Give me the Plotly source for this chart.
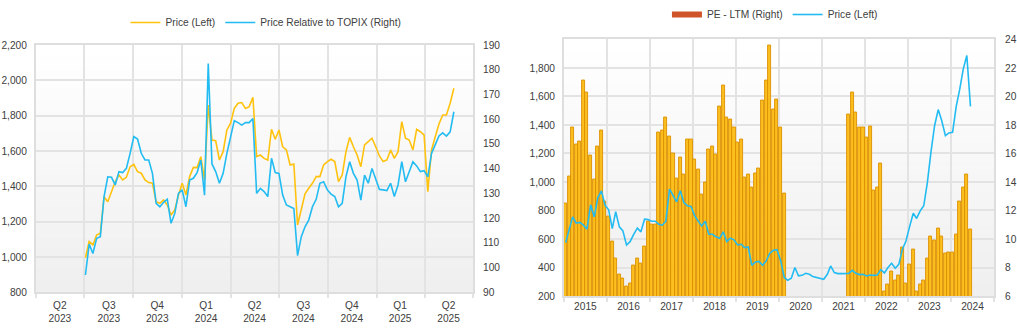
import plotly.graph_objects as go
import pandas as pd

# ---------------- Left panel data (weekly readings) ----------------
left_dates = pd.date_range("2023-07-03", periods=100, freq="7D")
price_left = [995, 1087, 1068, 1124, 1134, 1341, 1313, 1375, 1426, 1464,
              1436, 1451, 1511, 1524, 1483, 1474, 1436, 1421, 1417, 1313,
              1304, 1323, 1294, 1238, 1266, 1351, 1417, 1351, 1455, 1507,
              1506, 1568, 1436, 1860, 1662, 1658, 1549, 1596, 1719, 1757,
              1841, 1870, 1874, 1841, 1851, 1904, 1568, 1577, 1558, 1549,
              1723, 1666, 1719, 1624, 1606, 1521, 1526, 1181, 1266, 1357,
              1389, 1417, 1455, 1455, 1521, 1540, 1553, 1540, 1426, 1464,
              1596, 1677, 1624, 1577, 1511, 1634, 1653, 1672, 1624, 1572,
              1540, 1549, 1606, 1558, 1596, 1766, 1672, 1662, 1606, 1723,
              1709, 1690, 1370, 1606, 1681, 1753, 1804, 1804, 1870, 1955]
rel_topix = [97.0, 109.5, 105.7, 111.8, 112.5, 128.7, 136.7, 136.5, 133.4, 138.8,
             138.4, 140.1, 146.2, 153.0, 152.0, 146.2, 143.5, 143.5, 138.1, 126.0,
             124.6, 126.4, 127.6, 117.9, 121.9, 130.0, 131.4, 124.6, 135.4, 136.1,
             138.4, 143.5, 129.3, 182.5, 141.9, 138.8, 134.1, 138.1, 146.2, 152.9,
             159.4, 158.6, 157.6, 158.6, 158.6, 160.3, 130.0, 132.0, 130.7, 128.7,
             144.2, 138.4, 138.1, 129.3, 125.3, 124.6, 123.9, 104.8, 112.5, 116.5,
             119.2, 124.6, 127.6, 134.1, 134.7, 131.4, 129.7, 128.7, 124.6, 126.0,
             136.7, 142.8, 138.1, 135.4, 127.3, 137.4, 134.1, 140.1, 135.4, 131.6,
             131.4, 131.1, 134.1, 128.7, 133.4, 142.8, 134.7, 138.8, 142.8, 141.1,
             138.8, 139.2, 136.7, 146.2, 149.5, 153.2, 154.5, 153.2, 154.9, 163.0]

quarter_starts = ["2023-04-01", "2023-07-01", "2023-10-01", "2024-01-01", "2024-04-01",
                  "2024-07-01", "2024-10-01", "2025-01-01", "2025-04-01", "2025-07-01"]
quarter_mids = ["2023-05-16", "2023-08-16", "2023-11-15", "2024-02-15", "2024-05-16",
                "2024-08-16", "2024-11-15", "2025-02-14", "2025-05-16"]
quarter_labels = ["Q2<br>2023", "Q3<br>2023", "Q4<br>2023", "Q1<br>2024", "Q2<br>2024",
                  "Q3<br>2024", "Q4<br>2024", "Q1<br>2025", "Q2<br>2025"]

# ---------------- Right panel data (monthly readings) ----------------
month_dates = pd.date_range("2015-01-01", periods=114, freq="MS") + pd.Timedelta(days=14)
pe_ltm = [12.5, 14.4, 17.85, 16.65, 16.85, 21.1, 20.25, 15.85, 14.2, 16.5,
          17.65, 12.6, 11.6, 9.8, 8.65, 7.5, 7.2, 6.65, 6.85, 8.15,
          8.65, 8.25, 9.5, 11.2, 11.0, 11.0, 17.5, 17.65, 18.5, 17.2,
          16.0, 14.25, 15.75, 14.5, 17.0, 17.0, 15.6, 14.85, 13.15, 13.95,
          16.3, 16.5, 15.95, 19.3, 20.8, 18.5, 18.4, 17.8, 16.8, 17.0,
          14.3, 14.5, 13.6, 14.6, 14.95, 19.7, 21.1, 23.6, 19.1, 19.8,
          17.85, 13.2,
          None, None, None, None, None, None, None, None, None, None,
          None, None, None, None, None, None, None,
          18.75, 20.25, 18.9, 17.85, 17.8, 17.1, 17.9, 13.4, 13.65, 15.3,
          6.3, 6.8, 7.75, 7.1, 7.45, 9.4, 6.85, 8.2, 9.25, 6.35,
          6.8, 7.1, 8.65, 10.2, 9.9, 10.75, 10.2, 8.95, 9.05, 9.05,
          10.3, 12.6, 13.65, 14.5, 10.65]
price_monthly = [575, 669, 755, 711, 716, 697, 669, 840, 755, 891,
                 938, 837, 805, 673, 791, 685, 657, 558, 581, 633,
                 676, 650, 739, 737, 725, 725, 704, 697, 725, 950,
                 903, 861, 938, 856, 833, 828, 762, 725, 692, 725,
                 633, 633, 615, 605, 650, 581, 605, 594, 558, 563,
                 540, 544, 415, 439, 443, 415, 446, 500, 521, 525,
                 450, 330, 310, 325, 400, 341, 345, 359, 352, 336,
                 329, 324, 317, 352, 411, 364, 357, 357, 357, 359,
                 380, 359, 350, 352, 341, 347, 345, 347, 385, 362,
                 400, 430, 395, 422, 528, 586, 687, 781, 744, 797,
                 833, 997, 1208, 1395, 1508, 1430, 1325, 1344, 1348, 1531,
                 1648, 1794, 1887, 1531]

year_starts = [f"{y}-01-01" for y in range(2015, 2026)]
year_mids = [f"{y}-07-02" for y in range(2015, 2025)]
year_labels = [str(y) for y in range(2015, 2025)]

# ---------------- Styles ----------------
YELLOW = "#FFC20E"
BLUE = "#22BCF2"
GRID = "#e3e3e3"
FRAME = "#dedede"
TXT = "#404040"
FONT = "Arial, Liberation Sans, sans-serif"
FS = 10.2

fig = go.Figure()

fig.add_trace(go.Scatter(x=left_dates, y=price_left, name="Price (Left)", mode="lines",
                         line=dict(color=YELLOW, width=1.6), xaxis="x", yaxis="y",
                         legend="legend"))
fig.add_trace(go.Scatter(x=left_dates, y=rel_topix, name="Price Relative to TOPIX (Right)",
                         mode="lines", line=dict(color=BLUE, width=1.6), xaxis="x", yaxis="y2",
                         legend="legend"))

# right panel: bars on base axis (y3, right side), price on overlaying axis (y4, left side)
fig.add_trace(go.Bar(x=month_dates, y=pe_ltm, name="PE - LTM (Right)", showlegend=False,
                     marker=dict(color="#FBBF1E", line=dict(color="#DD9000", width=0.9)),
                     width=26 * 86400000, xaxis="x2", yaxis="y3", legend="legend2"))
fig.add_trace(go.Scatter(x=[month_dates[0]], y=[None], name="PE - LTM (Right)", mode="lines",
                         line=dict(color="#D0542A", width=6),
                         xaxis="x2", yaxis="y3", legend="legend2"))
fig.add_trace(go.Scatter(x=month_dates, y=price_monthly, name="Price (Left)", mode="lines",
                         line=dict(color=BLUE, width=1.6), xaxis="x2", yaxis="y4",
                         legend="legend2"))

tickfont = dict(family=FONT, size=FS, color=TXT)
minor_common = dict(showgrid=True, gridcolor=GRID, gridwidth=1.5, ticks="outside",
                    ticklen=4, tickcolor=GRID, tickwidth=1.5)

# gradient backgrounds
shapes = []
N = 40
for xr, yr in (("x domain", "y domain"), ("x2 domain", "y3 domain")):
    for i in range(N):
        t = i / (N - 1)
        v = int(round(239 + (255 - 239) * t))
        col = f"rgb({v},{v},{v})"
        shapes.append(dict(type="rect", xref=xr, yref=yr, x0=0, x1=1,
                           y0=i / N, y1=(i + 1) / N + 0.002, fillcolor=col,
                           line=dict(width=0), layer="below"))

fig.update_layout(
    template="none",
    width=1017, height=329,
    margin=dict(l=0, r=0, t=0, b=0, pad=0),
    paper_bgcolor="white", plot_bgcolor="white",
    font=dict(family=FONT, size=FS, color=TXT),
    bargap=0,
    shapes=shapes,
    xaxis=dict(domain=[0.0354, 0.4651], type="date", anchor="y",
               range=["2023-04-01", "2025-07-01"],
               tickmode="array", tickvals=quarter_mids, ticktext=quarter_labels,
               showgrid=False, ticks="outside", ticklen=2, tickcolor="rgba(0,0,0,0)",
               tickfont=tickfont, automargin=False,
               minor=dict(tickmode="array", tickvals=quarter_starts, **minor_common),
               showline=True, linecolor=FRAME, linewidth=2, mirror=True, zeroline=False),
    yaxis=dict(domain=[0.1116, 0.8632], range=[800, 2200], dtick=200, tickformat=",",
               showgrid=True, gridcolor=GRID, gridwidth=1.5, zeroline=False,
               showline=True, linecolor=FRAME, linewidth=2, mirror=True, automargin=False,
               ticks="outside", ticklen=5, tickcolor="rgba(0,0,0,0)", tickfont=tickfont,
               anchor="x"),
    yaxis2=dict(overlaying="y", side="right", range=[90, 190], dtick=10, showgrid=False,
                zeroline=False, ticks="outside", ticklen=7, tickcolor="rgba(0,0,0,0)",
                tickfont=tickfont, anchor="x", automargin=False),
    xaxis2=dict(domain=[0.5546, 0.9774], type="date", anchor="y3",
                range=["2015-01-01", "2025-01-01"],
                tickmode="array", tickvals=year_mids, ticktext=year_labels,
                showgrid=False, ticks="", tickfont=tickfont, automargin=False,
                minor=dict(tickmode="array", tickvals=year_starts, **minor_common),
                showline=True, linecolor=FRAME, linewidth=2, mirror=True, zeroline=False),
    yaxis3=dict(domain=[0.1003, 0.880], range=[6, 24], dtick=2, side="right",
                showgrid=True, gridcolor=GRID, gridwidth=1.5, zeroline=False,
                showline=True, linecolor=FRAME, linewidth=2, mirror=True, automargin=False,
                ticks="outside", ticklen=7, tickcolor="rgba(0,0,0,0)", tickfont=tickfont,
                anchor="x2"),
    yaxis4=dict(overlaying="y3", side="left", range=[200, 2000],
                tickmode="array", tickvals=[200, 400, 600, 800, 1000, 1200, 1400, 1600, 1800],
                tickformat=",", showgrid=False, zeroline=False, automargin=False,
                ticks="outside", ticklen=6, tickcolor="rgba(0,0,0,0)", tickfont=tickfont,
                anchor="x2"),
    legend=dict(orientation="h", x=0.2615, xanchor="center", y=0.9757, yanchor="top",
                font=dict(family=FONT, size=FS, color=TXT), bgcolor="rgba(0,0,0,0)"),
    legend2=dict(orientation="h", x=0.762, xanchor="center", y=1.0, yanchor="top",
                 font=dict(family=FONT, size=FS, color=TXT), bgcolor="rgba(0,0,0,0)"),
)

fig.write_html("out.html")
